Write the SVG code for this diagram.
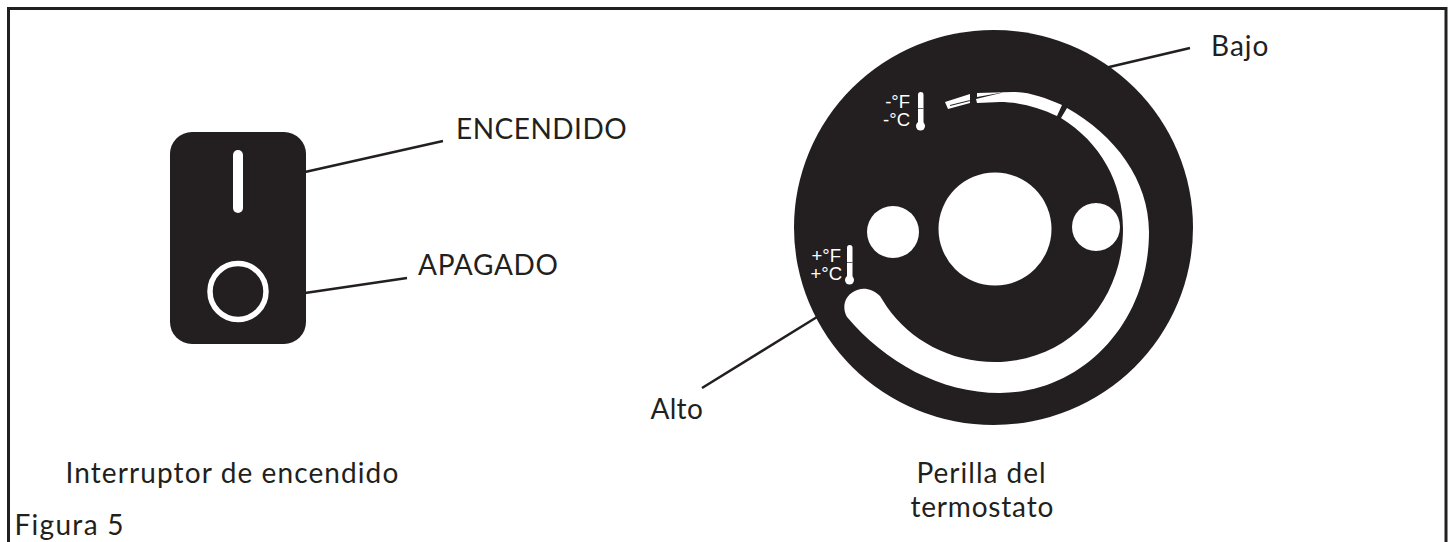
<svg xmlns="http://www.w3.org/2000/svg" width="1450" height="542" viewBox="0 0 1450 542">
<style>
.t{font-family:"Lato","Liberation Sans",sans-serif;font-size:28px;fill:#231f20}
.s{font-family:"Liberation Sans",sans-serif;font-size:18.500px;fill:#fff;text-anchor:end}
.d{fill:#231f20}
.w{fill:#fff}
.l{stroke:#231f20;stroke-width:2.500;fill:none}
.k{stroke:#231f20;stroke-width:.7}
</style>
<rect width="1450" height="542" fill="#fff"/>
<path id="frame" d="M8.500 542V8.500H1446V542" fill="none" stroke="#231f20" stroke-width="3"/>
<g id="connectors">
<line class="l" x1="305" y1="172" x2="443" y2="141"/>
<line class="l" x1="305" y1="293" x2="407" y2="278"/>
<line class="l" x1="1105" y1="68" x2="1190" y2="48"/>
<line class="l" x1="817" y1="317" x2="702" y2="388"/>
</g>
<g id="switch">
<rect class="d" x="170" y="132" width="136" height="212" rx="22"/>
<rect class="w" x="233" y="150" width="10" height="63" rx="5"/>
<circle cx="238" cy="291.500" r="28" fill="none" stroke="#fff" stroke-width="5.500"/>
</g>
<g id="knob">
<ellipse class="d" cx="993.500" cy="227.500" rx="199.500" ry="197.500"/>
<circle class="w" cx="995" cy="229" r="56.500"/>
<circle class="w" cx="893" cy="232" r="26"/>
<circle class="w" cx="1096" cy="227" r="24"/>
<path class="w" d="M1067 108C1115 135 1149 180 1149 232C1149 325 1080 393 1000 393C940 393 885 362 847 317C841 306 846 296 853 292C860 287 871 287 880 296L887 307C910 340 950 362 995 362C1070 362 1123 300 1123 229C1123 182 1100 142 1061 118Z"/>
<path class="w" d="M1013 92C1030 92 1045 98 1062 105L1057 116C1040 108 1020 102 1000 102L977 103L976 99L1005 92L977 97V93Z"/>
<path class="w" fill-rule="evenodd" d="M945 102L970 94V103L948 109ZM950 105L970 100V101L950 106Z"/>
<text class="s" x="910" y="108">-°F</text>
<text class="s" x="910" y="125.500">-°C</text>
<rect class="w" x="918" y="92" width="5.500" height="34" rx="2.700"/>
<line class="k" x1="918" x2="923.500" y1="108.500" y2="108.500"/>
<circle class="w" cx="920.500" cy="126" r="4.500"/>
<text class="s" x="841" y="262">+°F</text>
<text class="s" x="842" y="280">+°C</text>
<rect class="w" x="847" y="245" width="5.500" height="34" rx="2.700"/>
<line class="k" x1="847" x2="852.500" y1="262.500" y2="262.500"/>
<circle class="w" cx="849.500" cy="280" r="4.500"/>
</g>
<g id="labels">
<text class="t" x="456" y="139" letter-spacing=".5">ENCENDIDO</text>
<text class="t" x="418" y="275" letter-spacing=".7">APAGADO</text>
<text class="t" x="1211" y="56" letter-spacing="1">Bajo</text>
<text class="t" x="650.500" y="419" letter-spacing=".3">Alto</text>
<text class="t" x="65.500" y="483" letter-spacing="1.100">Interruptor de encendido</text>
<text class="t" x="916.500" y="483" letter-spacing="1">Perilla del</text>
<text class="t" x="910.500" y="517" letter-spacing=".8">termostato</text>
<text class="t" x="14.500" y="535" letter-spacing="1.300">Figura 5</text>
</g>
</svg>
